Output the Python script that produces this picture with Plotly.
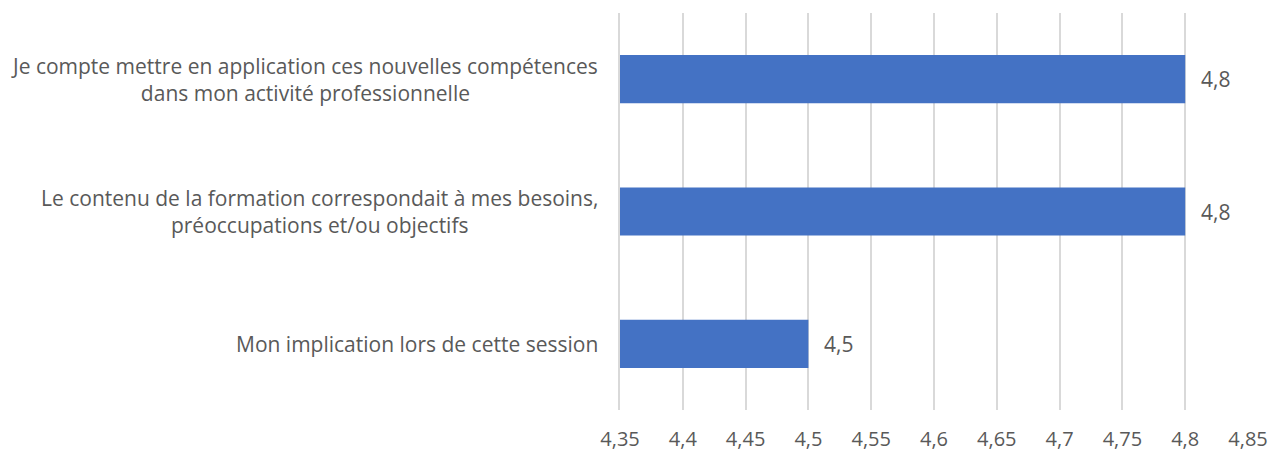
import plotly.graph_objects as go

categories = [
    "Je compte mettre en application ces nouvelles compétences<br>dans mon activité professionnelle",
    "Le contenu de la formation correspondait à mes besoins,<br>préoccupations et/ou objectifs",
    "Mon implication lors de cette session",
]
values = [4.8, 4.8, 4.5]
value_labels = ["4,8", "4,8", "4,5"]
x_ticks = [4.35, 4.4, 4.45, 4.5, 4.55, 4.6, 4.65, 4.7, 4.75, 4.8, 4.85]
x_tick_labels = ["4,35", "4,4", "4,45", "4,5", "4,55", "4,6", "4,65", "4,7", "4,75", "4,8", "4,85"]

FONT = "Open Sans"
GREY = "#595959"

fig = go.Figure(go.Bar(
    y=categories, x=values, orientation="h",
    marker=dict(color="#4472C4", line=dict(width=0)),
    hoverinfo="skip",
))

annotations = []
for c, v, t in zip(categories, values, value_labels):
    annotations.append(dict(x=v, y=c, xref="x", yref="y", text=t, showarrow=False,
                            xanchor="left", xshift=14, font=dict(family=FONT, size=21, color=GREY)))
    annotations.append(dict(x=0, y=c, xref="paper", yref="y", text=c, showarrow=False,
                            xanchor="right", align="center", xshift=-20,
                            font=dict(family=FONT, size=21, color=GREY)))

fig.update_layout(
    width=1285, height=452,
    margin=dict(l=620, r=37, t=13, b=42),
    paper_bgcolor="white", plot_bgcolor="white",
    bargap=0.636,
    showlegend=False,
    separators=", ",
    annotations=annotations,
    xaxis=dict(range=[4.35, 4.85], tickvals=x_ticks, ticktext=x_tick_labels,
               showgrid=True, gridcolor="#D9D9D9", gridwidth=1.5, zeroline=False,
               showline=False, ticks="", ticklabelstandoff=15, automargin=False,
               tickfont=dict(family=FONT, size=20, color=GREY), fixedrange=True),
    yaxis=dict(autorange="reversed", showticklabels=False, showgrid=False, zeroline=False,
               showline=True, linecolor="#D9D9D9", linewidth=1.5, ticks="", fixedrange=True,
               automargin=False),
)

fig.write_html("out.html", config={"displayModeBar": False},
               post_script="document.body.style.margin='0';")
